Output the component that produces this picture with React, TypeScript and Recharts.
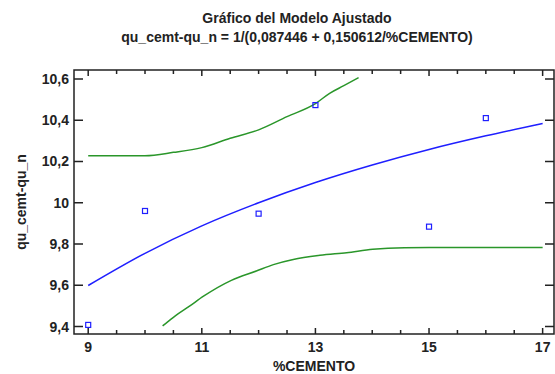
// Fitted model chart: qu_cemt-qu_n vs %CEMENTO with confidence bands
import { ComposedChart, Line, Scatter, XAxis, YAxis, ReferenceArea, ReferenceLine } from "recharts";

const cemento = [9, 10, 12, 13, 15, 16];
const quObserved = [9.408, 9.96, 9.947, 10.473, 9.884, 10.41];

const fitCemento = [9, 10, 11, 12, 13, 14, 15, 16, 17];
const fitQu = [9.599, 9.755, 9.888, 10.0, 10.098, 10.183, 10.258, 10.324, 10.384];

const upperCemento = [9, 10, 10.5, 11, 11.5, 12, 12.5, 13, 13.25, 13.5, 13.76];
const upperQu = [10.228, 10.228, 10.244, 10.267, 10.312, 10.353, 10.417, 10.48, 10.53, 10.567, 10.606];

const lowerCemento = [10.31, 10.5, 10.79, 11.03, 11.52, 11.96, 12.26, 12.61, 13.08, 13.55, 14.01, 14.57, 15, 16, 17];
const lowerQu = [9.403, 9.445, 9.5, 9.547, 9.624, 9.669, 9.7, 9.725, 9.745, 9.758, 9.774, 9.782, 9.783, 9.783, 9.783];

const xTicks = [9, 9.5, 10, 10.5, 11, 11.5, 12, 12.5, 13, 13.5, 14, 14.5, 15, 15.5, 16, 16.5, 17];
const xLabelTicks = [9, 11, 13, 15, 17];
const yTicks = [9.4, 9.6, 9.8, 10, 10.2, 10.4, 10.6];

const xDomain = [8.75, 17.2];
const yDomain = [9.364, 10.643];

const toPoints = (xs: number[], ys: number[]) => xs.map((x, i) => ({ x, y: ys[i] }));

const observed = toPoints(cemento, quObserved);
const fitted = toPoints(fitCemento, fitQu);
const upper = toPoints(upperCemento, upperQu);
const lower = toPoints(lowerCemento, lowerQu);

const FONT = "'Liberation Sans', Arial, sans-serif";
const INK = "#222";
const BLUE = "#1f1fff";
const GREEN = "#2a962a";

const fmt = (v: number) => String(v).replace(".", ",");

function BottomLabel(props: any) {
  const { x, y, payload } = props;
  if (!xLabelTicks.includes(payload.value)) return <g />;
  return (
    <text x={x} y={y + 18} textAnchor="middle" fontSize={14} fontWeight="bold" fill={INK} fontFamily={FONT}>
      {fmt(payload.value)}
    </text>
  );
}

function LeftLabel(props: any) {
  const { x, y, payload } = props;
  return (
    <text x={x - 5} y={y} dy="0.36em" textAnchor="end" fontSize={14} fontWeight="bold" fill={INK} fontFamily={FONT}>
      {fmt(payload.value)}
    </text>
  );
}

// inward tick marks at the top and bottom of the frame
function XTickMarks(props: any) {
  const { x1, y1, y2, len } = props;
  const top = Math.min(y1, y2);
  const bottom = Math.max(y1, y2);
  return (
    <path
      d={`M${x1},${bottom}V${bottom - len}M${x1},${top}V${top + len}`}
      stroke={INK}
      strokeWidth={1.5}
      fill="none"
    />
  );
}

// inward tick marks at the left and right of the frame
function YTickMarks(props: any) {
  const { x1, x2, y1 } = props;
  const left = Math.min(x1, x2);
  const right = Math.max(x1, x2);
  return <path d={`M${left},${y1}H${left + 9}M${right},${y1}H${right - 9}`} stroke={INK} strokeWidth={1.5} fill="none" />;
}

function Square(props: any) {
  const { cx, cy } = props;
  return <rect x={cx - 2.5} y={cy - 2.5} width={5} height={5} fill="none" stroke={BLUE} strokeWidth={1.2} />;
}

export default function App() {
  return (
    <div style={{ position: "absolute", left: 0, top: 0, width: 555, height: 374, background: "#fff", fontFamily: FONT }}>
      <div
        style={{
          position: "absolute",
          left: 97,
          top: 9,
          width: 400,
          textAlign: "center",
          fontSize: 14,
          fontWeight: "bold",
          lineHeight: "19px",
          color: INK,
        }}
      >
        <div>Gráfico del Modelo Ajustado</div>
        <div>qu_cemt-qu_n = 1/(0,087446 + 0,150612/%CEMENTO)</div>
      </div>
      <ComposedChart width={555} height={374} margin={{ top: 70, right: 1, bottom: 0, left: 0 }}>
        <XAxis
          xAxisId="bottom"
          dataKey="x"
          type="number"
          domain={xDomain}
          ticks={xTicks}
          allowDataOverflow
          height={40}
          tickSize={0}
          tickMargin={0}
          tickLine={false}
          tick={<BottomLabel />}
          interval={0}
          axisLine={false}
          label={{
            value: "%CEMENTO",
            position: "insideBottom",
            offset: 3,
            fontSize: 14,
            fontWeight: "bold",
            fill: INK,
            fontFamily: FONT,
          }}
        />
        <YAxis
          yAxisId="left"
          dataKey="y"
          type="number"
          domain={yDomain}
          ticks={yTicks}
          allowDataOverflow
          width={74}
          tickSize={0}
          tickMargin={0}
          tickLine={false}
          tick={<LeftLabel />}
          interval={0}
          axisLine={false}
          label={{
            value: "qu_cemt-qu_n",
            angle: -90,
            position: "insideLeft",
            offset: 21,
            fontSize: 14,
            fontWeight: "bold",
            fill: INK,
            fontFamily: FONT,
            style: { textAnchor: "middle" },
          }}
        />
        <ReferenceArea
          xAxisId="bottom"
          yAxisId="left"
          x1={xDomain[0]}
          x2={xDomain[1]}
          y1={yDomain[0]}
          y2={yDomain[1]}
          fill="none"
          fillOpacity={0}
          stroke={INK}
          strokeWidth={1.5}
          strokeOpacity={1}
          ifOverflow="visible"
        />
        {xTicks.map((v) => (
          <ReferenceLine
            key={`xt-${v}`}
            xAxisId="bottom"
            yAxisId="left"
            x={v}
            shape={(p: any) => <XTickMarks {...p} len={xLabelTicks.includes(v) ? 6 : 4} />}
          />
        ))}
        {yTicks.map((v) => (
          <ReferenceLine
            key={`yt-${v}`}
            xAxisId="bottom"
            yAxisId="left"
            y={v}
            shape={(p: any) => <YTickMarks {...p} />}
          />
        ))}
        <Line
          xAxisId="bottom"
          yAxisId="left"
          data={upper}
          dataKey="y"
          type="monotone"
          stroke={GREEN}
          strokeWidth={1.5}
          dot={false}
          isAnimationActive={false}
        />
        <Line
          xAxisId="bottom"
          yAxisId="left"
          data={lower}
          dataKey="y"
          type="monotone"
          stroke={GREEN}
          strokeWidth={1.5}
          dot={false}
          isAnimationActive={false}
        />
        <Line
          xAxisId="bottom"
          yAxisId="left"
          data={fitted}
          dataKey="y"
          type="monotone"
          stroke={BLUE}
          strokeWidth={1.5}
          dot={false}
          isAnimationActive={false}
        />
        <Scatter
          xAxisId="bottom"
          yAxisId="left"
          data={observed}
          dataKey="y"
          shape={<Square />}
          isAnimationActive={false}
        />
      </ComposedChart>
    </div>
  );
}
